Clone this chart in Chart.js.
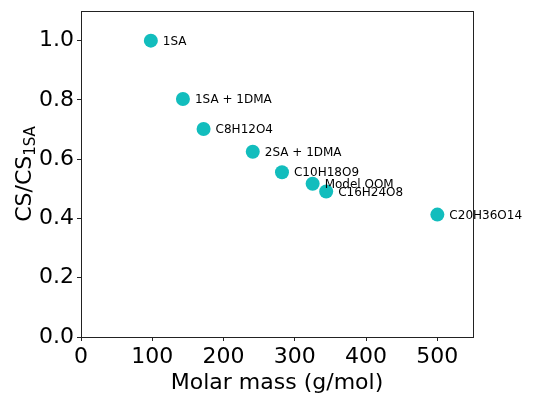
<!DOCTYPE html>
<html>
<head>
<meta charset="utf-8">
<script src="https://cdn.jsdelivr.net/npm/chart.js@4/dist/chart.umd.min.js"></script>
<style>
  html, body { margin: 0; padding: 0; background: #fff; }
  #wrap { width: 544px; height: 394px; position: relative; }
</style>
</head>
<body>
<div id="wrap"><canvas id="chart"></canvas></div>
<script>
const names = ['1SA', '1SA + 1DMA', 'C8H12O4', '2SA + 1DMA', 'C10H18O9', 'Model OOM', 'C16H24O8', 'C20H36O14']
const molarMass = [98, 143, 172, 241, 282, 325, 344, 500]
const csRatio = [1.0, 0.803, 0.702, 0.625, 0.556, 0.517, 0.491, 0.413]
const xTicks = [0, 100, 200, 300, 400, 500]
const yTicks = [0.0, 0.2, 0.4, 0.6, 0.8, 1.0]

const pointColor = '#12bdbd'
const fontFamily = '"DejaVu Sans", sans-serif'

const points = molarMass.map((m, i) => ({ x: m, y: csRatio[i] }))

// labels next to each point, plus the frame and the y title with subscript
const extras = {
    id: 'extras',
    afterDatasetsDraw(chart) {
        const ctx = chart.ctx
        const meta = chart.getDatasetMeta(0)
        ctx.save()
        ctx.font = '12px ' + fontFamily
        ctx.fillStyle = '#000'
        ctx.textBaseline = 'middle'
        ctx.textAlign = 'left'
        meta.data.forEach((pt, i) => {
            ctx.fillText(names[i], pt.x + 12, pt.y + 1)
        })
        ctx.restore()
    },
    afterDraw(chart) {
        const ctx = chart.ctx
        const a = chart.chartArea
        ctx.save()
        ctx.strokeStyle = '#222'
        ctx.lineWidth = 1
        ctx.strokeRect(Math.round(a.left) + 0.5, Math.round(a.top) + 0.5,
            Math.round(a.right - a.left), Math.round(a.bottom - a.top))

        // y axis title: CS/CS with subscript 1SA
        const main = 'CS/CS'
        const sub = '1SA'
        ctx.fillStyle = '#000'
        ctx.font = '22px ' + fontFamily
        const wMain = ctx.measureText(main).width
        ctx.font = '15px ' + fontFamily
        const wSub = ctx.measureText(sub).width
        const total = wMain + wSub
        const cy = (a.top + a.bottom) / 2
        ctx.translate(31, cy)
        ctx.rotate(-Math.PI / 2)
        ctx.textBaseline = 'alphabetic'
        ctx.textAlign = 'left'
        ctx.font = '22px ' + fontFamily
        ctx.fillText(main, -total / 2, 0)
        ctx.font = '15px ' + fontFamily
        ctx.fillText(sub, -total / 2 + wMain, 4)
        ctx.restore()
    }
}

new Chart(document.getElementById('chart'), {
    type: 'scatter',
    data: {
        datasets: [{
            data: points,
            backgroundColor: pointColor,
            borderColor: pointColor,
            pointRadius: 7,
            pointHoverRadius: 7,
            borderWidth: 0
        }]
    },
    options: {
        responsive: true,
        maintainAspectRatio: false,
        animation: false,
        layout: { padding: { top: 11, right: 71, left: 0, bottom: 0 } },
        plugins: {
            legend: { display: false },
            tooltip: { enabled: false }
        },
        scales: {
            x: {
                type: 'linear',
                min: 0,
                max: 550,
                afterBuildTicks: s => { s.ticks = xTicks.map(v => ({ value: v })) },
                afterFit: s => { s.height = 57; s.paddingLeft = 0; s.paddingRight = 0 },
                grid: { display: true, drawOnChartArea: false, tickLength: 4, color: '#222' },
                border: { display: false },
                ticks: {
                    color: '#000',
                    padding: 3,
                    maxRotation: 0,
                    font: { family: fontFamily, size: 22 }
                },
                title: {
                    display: true,
                    text: 'Molar mass (g/mol)',
                    color: '#000',
                    padding: { top: 0, bottom: -2 },
                    font: { family: fontFamily, size: 22 }
                }
            },
            y: {
                type: 'linear',
                min: 0,
                max: 1.1,
                afterBuildTicks: s => { s.ticks = yTicks.map(v => ({ value: v })) },
                afterFit: s => { s.width = 81; s.paddingTop = 0; s.paddingBottom = 0 },
                grid: { display: true, drawOnChartArea: false, tickLength: 4, color: '#222' },
                border: { display: false },
                ticks: {
                    color: '#000',
                    padding: 3,
                    callback: v => v.toFixed(1),
                    font: { family: fontFamily, size: 22 }
                }
            }
        }
    },
    plugins: [extras]
})
</script>
</body>
</html>
